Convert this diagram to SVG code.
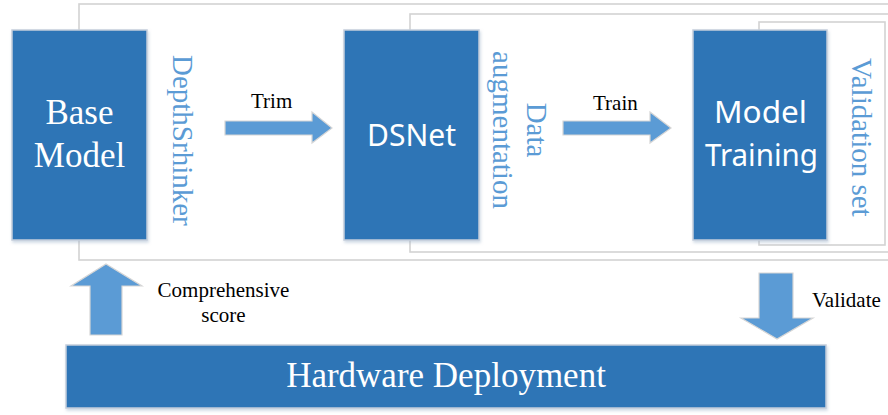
<svg xmlns="http://www.w3.org/2000/svg" width="888" height="415" viewBox="0 0 888 415">
<defs>
<style>
.frame{fill:#ffffff;stroke:#d3d3d3;stroke-width:1.6}
.box{fill:#2E75B6;stroke:#c5cedb;stroke-width:1.5}
.arrow{fill:#5B9BD5;stroke:#d6d6d6;stroke-width:1.2}
.serifW{font-family:"Liberation Serif","Times New Roman",serif;fill:#ffffff;font-size:35px;text-anchor:middle}
.sansW{font-family:"Noto Sans","Open Sans",sans-serif;fill:#ffffff;font-size:30px;text-anchor:middle}
.lbl{font-family:"Liberation Serif","Times New Roman",serif;fill:#000000;font-size:21px}
.vert{font-family:"Liberation Serif","Times New Roman",serif;fill:#5B9BD5;font-size:29px}
</style>
<filter id="sh" x="-10%" y="-10%" width="120%" height="120%">
<feDropShadow dx="1" dy="2" stdDeviation="1.5" flood-color="#9fb3cc" flood-opacity="0.5"/>
</filter>
</defs>

<g id="frames">
<rect class="frame" x="79" y="4" width="815" height="256"/>
<rect class="frame" x="410" y="14" width="484" height="238"/>
<rect class="frame" x="759" y="22" width="126" height="223"/>
</g>

<g id="node-base-model">
<rect class="box" x="12" y="30" width="135" height="210" filter="url(#sh)"/>
<text class="serifW" x="79.5" y="124">Base</text>
<text class="serifW" x="79.5" y="167">Model</text>
</g>

<g id="node-dsnet">
<rect class="box" x="344" y="30" width="135" height="210" filter="url(#sh)"/>
<text class="sansW" x="411.5" y="146" textLength="89" lengthAdjust="spacingAndGlyphs">DSNet</text>
</g>

<g id="node-model-training">
<rect class="box" x="693" y="30" width="134" height="210" filter="url(#sh)"/>
<text class="sansW" x="760.5" y="123" textLength="93" lengthAdjust="spacingAndGlyphs">Model</text>
<text class="sansW" x="761.5" y="166" textLength="113" lengthAdjust="spacingAndGlyphs">Training</text>
</g>

<g id="node-hardware">
<rect class="box" x="66" y="345" width="760" height="63" filter="url(#sh)"/>
<text class="serifW" x="446" y="387">Hardware Deployment</text>
</g>

<g id="side-labels">
<text class="vert" transform="translate(173,55) rotate(90)">DepthSrhinker</text>
<text class="vert" text-anchor="middle" transform="translate(527,130) rotate(90)">Data</text>
<text class="vert" text-anchor="middle" transform="translate(493,130) rotate(90)">augmentation</text>
<text class="vert" transform="translate(852,58) rotate(90)">Validation set</text>
</g>

<g id="connectors">
<polygon class="arrow" points="225,121 312,121 312,112 332,128 312,143 312,135 225,135"/>
<polygon class="arrow" points="563,121 650,121 650,112 671,128 650,143 650,135 563,135"/>
<polygon class="arrow" points="90,335 90,286 71,286 106,264 142,286 122,286 122,335"/>
<polygon class="arrow" points="759,273 793,273 793,318 813,318 777,339 741,318 759,318"/>
<text class="lbl" x="251" y="108">Trim</text>
<text class="lbl" x="593" y="110">Train</text>
<text class="lbl" x="223.5" y="297" text-anchor="middle">Comprehensive</text>
<text class="lbl" x="223.5" y="322" text-anchor="middle">score</text>
<text class="lbl" x="812" y="307">Validate</text>
</g>
</svg>
